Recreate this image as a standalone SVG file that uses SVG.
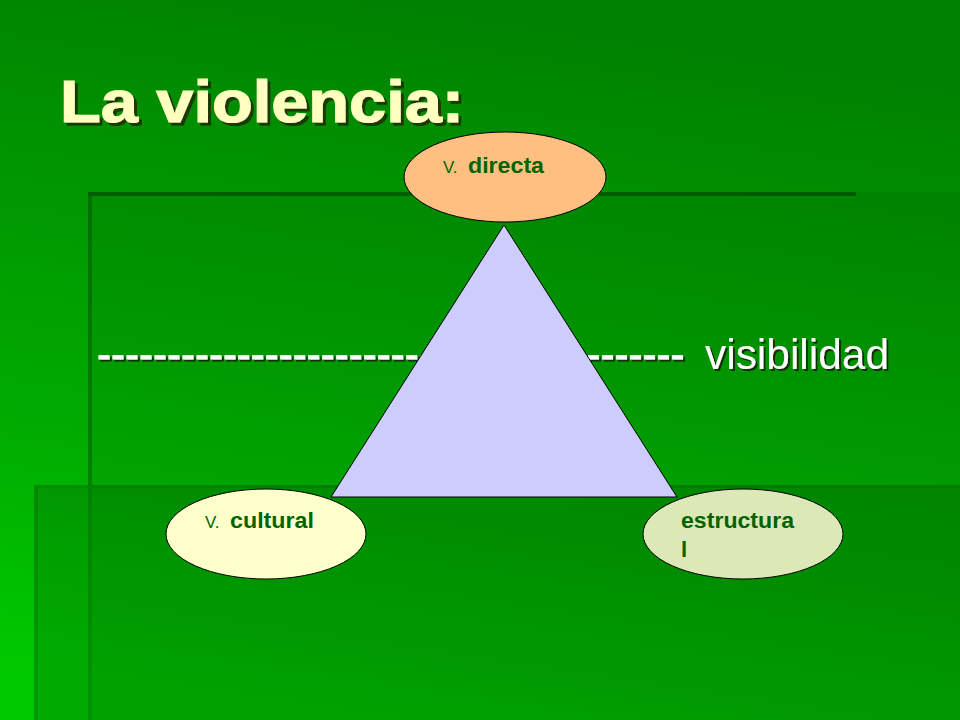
<svg xmlns="http://www.w3.org/2000/svg" width="960" height="720" viewBox="0 0 960 720">
  <defs>
    <linearGradient id="bg" x1="0.6" y1="0" x2="0.4" y2="1">
      <stop offset="0" stop-color="#007f00"/>
      <stop offset="0.3" stop-color="#009300"/>
      <stop offset="0.7" stop-color="#00ad00"/>
      <stop offset="1" stop-color="#00c800"/>
    </linearGradient>
    <filter id="shT" x="-5%" y="-20%" width="110%" height="140%">
      <feDropShadow dx="3" dy="3" stdDeviation="0.6" flood-color="#1a3300" flood-opacity="0.9"/>
    </filter>
    <filter id="shW" x="-5%" y="-20%" width="110%" height="140%">
      <feDropShadow dx="2" dy="2" stdDeviation="0.6" flood-color="#0a2a00" flood-opacity="0.9"/>
    </filter>
    <style>
      .ell { stroke: #000000; stroke-width: 1; }
      .lbl { font-family: "Liberation Sans", Arial, sans-serif; fill: #006400; }
      .v { font-size: 17px; }
      .b { font-size: 22px; font-weight: bold; }
      .white { font-family: "Liberation Sans", Arial, sans-serif; font-size: 42px; fill: #ffffff; filter: url(#shW); }
    </style>
  </defs>

  <g id="background">
    <rect x="0" y="0" width="960" height="720" fill="url(#bg)"/>
    <rect x="88" y="192" width="872" height="528" fill="#000000" fill-opacity="0.06"/>
    <rect x="88" y="192" width="768" height="4" fill="#003800" fill-opacity="0.55"/>
    <rect x="88" y="196" width="4" height="289" fill="#003000" fill-opacity="0.3"/>
    <rect x="34" y="485" width="926" height="235" fill="#000000" fill-opacity="0.14"/>
    <rect x="34" y="485" width="926" height="3" fill="#003000" fill-opacity="0.12"/>
    <rect x="34" y="488" width="4" height="232" fill="#003000" fill-opacity="0.15"/>
    <rect x="88" y="488" width="4" height="232" fill="#003000" fill-opacity="0.12"/>
  </g>

  <g id="title">
    <text x="60" y="122" font-family="'Liberation Sans', Arial, sans-serif" font-size="60" font-weight="bold" fill="#ffffc0" stroke="#ffffc0" stroke-width="1.2" textLength="404" lengthAdjust="spacingAndGlyphs" filter="url(#shT)">La violencia:</text>
  </g>

  <g id="visibility-line">
    <text class="white" x="97" y="369" stroke="#ffffff" stroke-width="0.8">------------------------------------------</text>
    <text class="white" x="705" y="369" textLength="184" lengthAdjust="spacingAndGlyphs">visibilidad</text>
  </g>

  <g id="triangle">
    <polygon points="504,225 331,497 677,497" fill="#ccccff" stroke="#000000" stroke-width="1"/>
  </g>

  <g id="connectors"></g>

  <g id="node-directa">
    <ellipse class="ell" cx="505" cy="177" rx="101" ry="45" fill="#ffbf80"/>
    <text class="lbl" y="173"><tspan class="v" x="443">V.</tspan><tspan class="b" x="468" textLength="76" lengthAdjust="spacingAndGlyphs">directa</tspan></text>
  </g>

  <g id="node-cultural">
    <ellipse class="ell" cx="266" cy="534" rx="100" ry="45" fill="#ffffcc"/>
    <text class="lbl" y="528"><tspan class="v" x="205">V.</tspan><tspan class="b" x="230" textLength="84" lengthAdjust="spacingAndGlyphs">cultural</tspan></text>
  </g>

  <g id="node-estructural">
    <ellipse class="ell" cx="743" cy="534" rx="100" ry="45" fill="#dde8b8"/>
    <text class="lbl b" x="681" y="528" textLength="113" lengthAdjust="spacingAndGlyphs">estructura</text>
    <text class="lbl b" x="681" y="557">l</text>
  </g>
</svg>
